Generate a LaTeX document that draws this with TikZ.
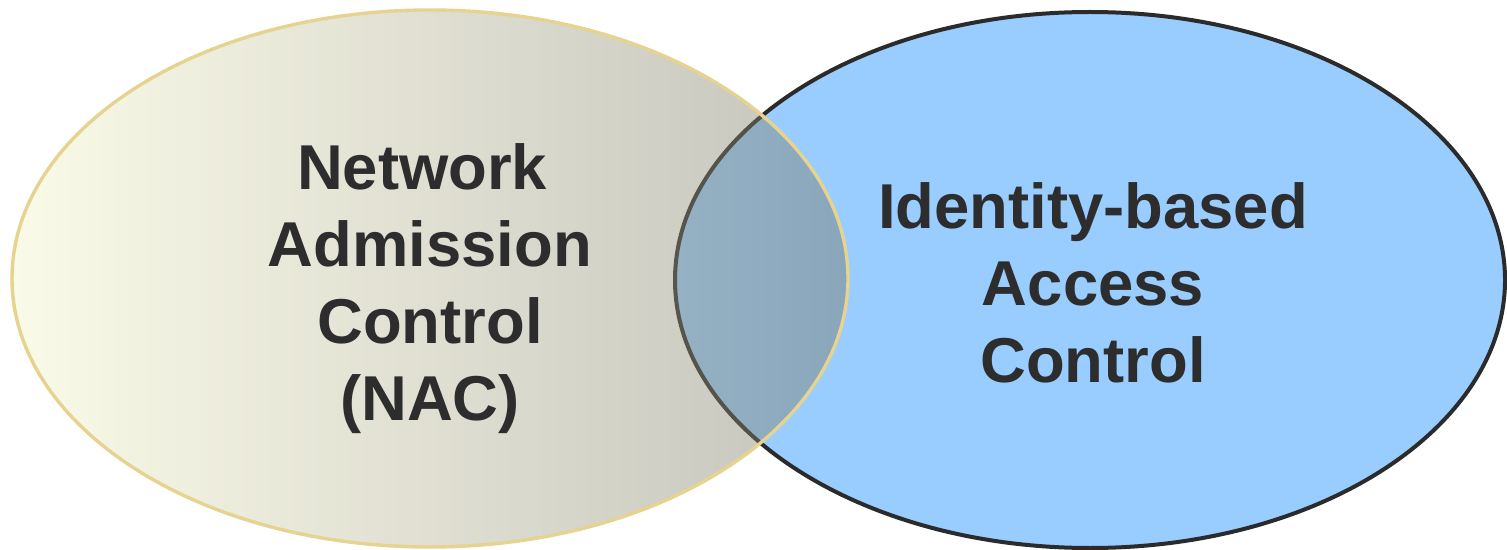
\documentclass[tikz,border=0pt]{standalone}
\usepackage{fontspec}
\setmainfont{Liberation Sans}
\definecolor{ink}{HTML}{2D2D2D}
\definecolor{skyfill}{HTML}{99CCFF}
\definecolor{skyline}{HTML}{2B2B2B}
\definecolor{creamlo}{RGB}{244,244,202}
\definecolor{creamhi}{RGB}{119,117,98}
\definecolor{goldline}{RGB}{229,211,143}
\begin{document}
\begin{tikzpicture}[x=.5pt,y=-.5pt,
  venntext/.style={align=center,anchor=base,text=ink,inner sep=0pt,
    font=\bfseries\fontsize{31.7}{38.5}\selectfont}]
\useasboundingbox (0,0) rectangle (1507,550);
% identity side first, the NAC side lies over it
\filldraw[fill=skyfill,draw=skyline,line width=2pt] (1090,280) ellipse [x radius=415,y radius=268];
\shade[left color=creamlo,right color=creamhi,fill opacity=.43] (430,278.5) ellipse [x radius=418,y radius=268.5];
\draw[goldline,line width=1.7pt] (430,278.5) ellipse [x radius=418,y radius=268.5];
% base anchor sits on the last line
\node[venntext] (nac) at (430,420) {Network\hspace*{.25em}\\Admission\\Control\\(NAC)};
\node[venntext] (ibac) at (1093,382) {Identity-based\\Access\\Control};
\end{tikzpicture}
\end{document}
